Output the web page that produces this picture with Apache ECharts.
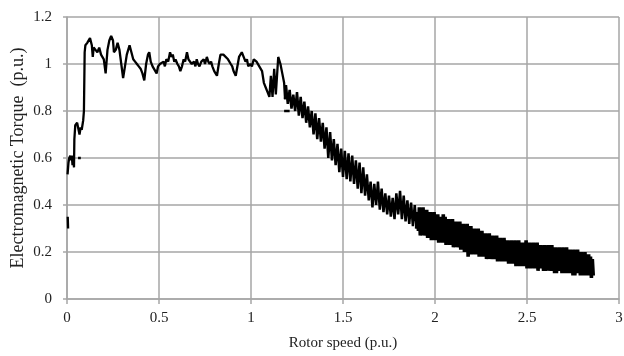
<!DOCTYPE html>
<html>
<head>
<meta charset="utf-8">
<script src="https://cdn.jsdelivr.net/npm/echarts@6/dist/echarts.min.js"></script>
<style>
  html, body { margin: 0; padding: 0; background: #fff; }
  #chart { width: 624px; height: 356px; }
</style>
</head>
<body>
<div id="chart"></div>
<script>
// tick labels
const speedTicks = [0, 0.5, 1, 1.5, 2, 2.5, 3];
const torqueTicks = [0, 0.2, 0.4, 0.6, 0.8, 1, 1.2];

// [rotor speed, torque]
const startBlip = [[0.004, 0.35], [0.006, 0.30]];
const startDash = [[0.06, 0.60], [0.075, 0.60]];
const midDash = [[1.18, 0.80], [1.21, 0.80]];

const runUp = [
  [0.003, 0.53], [0.008, 0.58], [0.012, 0.60], [0.018, 0.61], [0.022, 0.59],
  [0.026, 0.61], [0.03, 0.57], [0.034, 0.60], [0.038, 0.56], [0.04, 0.68],
  [0.045, 0.74], [0.055, 0.75], [0.062, 0.75], [0.068, 0.70], [0.074, 0.73],
  [0.08, 0.72], [0.088, 0.76], [0.092, 0.80], [0.096, 1.05], [0.1, 1.08],
  [0.11, 1.09], [0.125, 1.11], [0.135, 1.08], [0.14, 1.03], [0.145, 1.07],
  [0.155, 1.06], [0.165, 1.05], [0.175, 1.07], [0.185, 1.04], [0.2, 1.02],
  [0.21, 0.96], [0.22, 1.06], [0.23, 1.10], [0.24, 1.12], [0.25, 1.10],
  [0.255, 1.05], [0.265, 1.06], [0.275, 1.09], [0.285, 1.06], [0.295, 1.0],
  [0.305, 0.94], [0.315, 0.99], [0.325, 1.04], [0.34, 1.08], [0.35, 1.05],
  [0.36, 1.02], [0.37, 1.01], [0.38, 1.0], [0.39, 0.99], [0.40, 0.98],
  [0.41, 0.96], [0.42, 0.93], [0.43, 1.0], [0.44, 1.04], [0.447, 1.05],
  [0.455, 1.01], [0.465, 0.99], [0.475, 0.99], [0.487, 0.96], [0.495, 0.99],
  [0.505, 1.0], [0.514, 1.0], [0.525, 1.01], [0.532, 0.99], [0.54, 1.02],
  [0.55, 1.01], [0.56, 1.05], [0.568, 1.03], [0.575, 1.04], [0.583, 1.01],
  [0.59, 1.02], [0.6, 1.0], [0.608, 0.99], [0.616, 0.97], [0.625, 0.99],
  [0.634, 1.02], [0.642, 1.01], [0.652, 1.05], [0.66, 1.02], [0.67, 1.02],
  [0.678, 1.0], [0.69, 1.01], [0.698, 0.99], [0.705, 1.02], [0.712, 1.0],
  [0.72, 0.99], [0.73, 1.01], [0.743, 1.02], [0.75, 1.0], [0.76, 1.03],
  [0.768, 1.01], [0.775, 1.0], [0.783, 1.01], [0.79, 0.99], [0.80, 0.97],
  [0.815, 0.95], [0.825, 1.0], [0.834, 1.04], [0.85, 1.04], [0.86, 1.04],
  [0.875, 1.02], [0.89, 1.0], [0.898, 0.99], [0.905, 0.97], [0.917, 0.95],
  [0.935, 1.03], [0.95, 1.05], [0.96, 1.03], [0.97, 1.01], [0.978, 1.02],
  [0.985, 0.99], [0.996, 1.0], [1.005, 0.99], [1.015, 1.02], [1.03, 1.01],
  [1.045, 0.99], [1.06, 0.97], [1.07, 0.92], [1.08, 0.90], [1.09, 0.88],
  [1.1, 0.86], [1.108, 0.95], [1.117, 0.86], [1.126, 0.98], [1.135, 0.87],
  [1.148, 1.03], [1.16, 1.0], [1.17, 0.96], [1.18, 0.92], [1.185, 0.85]
];

const decayUpper = [
  [1.185, 0.85],
  [1.19, 0.91], [1.20, 0.83], [1.21, 0.89], [1.22, 0.81], [1.23, 0.87], [1.24, 0.80],
  [1.25, 0.88], [1.26, 0.78], [1.27, 0.86], [1.28, 0.77], [1.29, 0.84], [1.30, 0.75],
  [1.31, 0.82], [1.32, 0.73], [1.33, 0.80], [1.34, 0.70], [1.35, 0.79], [1.36, 0.68],
  [1.37, 0.77], [1.38, 0.67], [1.39, 0.75], [1.40, 0.64], [1.41, 0.73], [1.42, 0.60],
  [1.43, 0.71], [1.44, 0.59], [1.45, 0.68], [1.46, 0.57], [1.47, 0.66], [1.48, 0.54],
  [1.49, 0.64], [1.50, 0.52], [1.51, 0.63], [1.52, 0.51], [1.53, 0.62], [1.54, 0.50],
  [1.55, 0.61], [1.56, 0.49], [1.57, 0.59], [1.58, 0.47], [1.59, 0.58], [1.60, 0.45],
  [1.61, 0.56], [1.62, 0.44], [1.63, 0.53], [1.64, 0.42], [1.65, 0.50], [1.66, 0.39],
  [1.67, 0.49], [1.68, 0.40], [1.69, 0.50], [1.70, 0.38], [1.71, 0.47], [1.72, 0.37],
  [1.73, 0.45], [1.74, 0.36], [1.75, 0.44], [1.76, 0.35], [1.77, 0.43], [1.78, 0.34],
  [1.79, 0.45], [1.80, 0.36], [1.81, 0.46], [1.82, 0.34], [1.83, 0.44], [1.84, 0.33],
  [1.85, 0.42], [1.86, 0.32], [1.87, 0.41], [1.88, 0.31], [1.89, 0.40], [1.90, 0.30]
];

const decayLower = [
  [1.90, 0.30],
  [1.905, 0.37], [1.91, 0.29], [1.915, 0.39], [1.92, 0.27], [1.925, 0.36], [1.93, 0.28],
  [1.935, 0.39], [1.94, 0.27], [1.945, 0.35], [1.95, 0.27], [1.955, 0.38], [1.96, 0.26],
  [1.965, 0.35], [1.97, 0.26], [1.975, 0.37], [1.98, 0.25], [1.985, 0.34], [1.99, 0.26],
  [1.995, 0.37], [2.00, 0.25], [2.005, 0.34], [2.01, 0.25], [2.015, 0.36], [2.02, 0.24],
  [2.025, 0.33], [2.03, 0.25], [2.035, 0.35], [2.04, 0.24], [2.045, 0.36], [2.05, 0.24],
  [2.055, 0.35], [2.06, 0.23], [2.065, 0.32], [2.07, 0.24], [2.075, 0.34], [2.08, 0.23],
  [2.085, 0.31], [2.09, 0.23], [2.095, 0.34], [2.10, 0.22], [2.105, 0.31], [2.11, 0.23],
  [2.115, 0.33], [2.12, 0.22], [2.125, 0.30], [2.13, 0.22], [2.135, 0.33], [2.14, 0.21],
  [2.145, 0.30], [2.15, 0.21], [2.155, 0.32], [2.16, 0.20], [2.165, 0.29], [2.17, 0.20],
  [2.175, 0.32], [2.18, 0.18], [2.185, 0.29], [2.19, 0.19], [2.195, 0.31], [2.20, 0.19],
  [2.205, 0.28], [2.21, 0.20], [2.215, 0.30], [2.22, 0.19], [2.225, 0.28], [2.23, 0.19],
  [2.235, 0.30], [2.24, 0.18], [2.245, 0.27], [2.25, 0.19], [2.255, 0.29], [2.26, 0.18],
  [2.265, 0.26], [2.27, 0.18], [2.275, 0.28], [2.28, 0.17], [2.285, 0.26], [2.29, 0.18],
  [2.295, 0.28], [2.30, 0.17], [2.305, 0.25], [2.31, 0.17], [2.315, 0.27], [2.32, 0.17],
  [2.325, 0.25], [2.33, 0.17], [2.335, 0.27], [2.34, 0.16], [2.345, 0.24], [2.35, 0.17],
  [2.355, 0.26], [2.36, 0.16], [2.365, 0.24], [2.37, 0.16], [2.375, 0.26], [2.38, 0.16],
  [2.385, 0.23], [2.39, 0.16], [2.395, 0.25], [2.40, 0.15], [2.405, 0.23], [2.41, 0.15],
  [2.415, 0.25], [2.42, 0.15], [2.425, 0.23], [2.43, 0.15], [2.435, 0.25], [2.44, 0.14],
  [2.445, 0.23], [2.45, 0.15], [2.455, 0.25], [2.46, 0.14], [2.465, 0.22], [2.47, 0.14],
  [2.475, 0.24], [2.48, 0.14], [2.485, 0.22], [2.49, 0.15], [2.495, 0.25], [2.50, 0.13],
  [2.505, 0.22], [2.51, 0.14], [2.515, 0.24], [2.52, 0.13], [2.525, 0.21], [2.53, 0.14],
  [2.535, 0.24], [2.54, 0.13], [2.545, 0.21], [2.55, 0.13], [2.555, 0.24], [2.56, 0.12],
  [2.565, 0.21], [2.57, 0.13], [2.575, 0.23], [2.58, 0.13], [2.585, 0.20], [2.59, 0.12],
  [2.595, 0.23], [2.60, 0.12], [2.605, 0.20], [2.61, 0.13], [2.615, 0.23], [2.62, 0.12],
  [2.625, 0.20], [2.63, 0.12], [2.635, 0.23], [2.64, 0.12], [2.645, 0.20], [2.65, 0.11],
  [2.655, 0.22], [2.66, 0.11], [2.665, 0.19], [2.67, 0.12], [2.675, 0.22], [2.68, 0.12],
  [2.685, 0.19], [2.69, 0.11], [2.695, 0.22], [2.70, 0.11], [2.705, 0.19], [2.71, 0.11],
  [2.715, 0.22], [2.72, 0.11], [2.725, 0.18], [2.73, 0.11], [2.735, 0.21], [2.74, 0.11],
  [2.745, 0.18], [2.75, 0.10], [2.755, 0.21], [2.76, 0.10], [2.765, 0.18], [2.77, 0.11],
  [2.775, 0.21], [2.78, 0.11], [2.785, 0.17], [2.79, 0.10], [2.795, 0.20], [2.80, 0.10],
  [2.805, 0.17], [2.81, 0.10], [2.815, 0.20], [2.82, 0.10], [2.825, 0.17], [2.83, 0.10],
  [2.835, 0.19], [2.84, 0.10], [2.845, 0.18], [2.85, 0.09], [2.855, 0.17], [2.86, 0.10]
];

const chart = echarts.init(document.getElementById("chart"));
const font = "'Liberation Serif', 'DejaVu Serif', serif";
const gridColor = "#a6a6a6";

function curve(data, width) {
  return {
    type: "line",
    data: data,
    symbol: "none",
    smooth: false,
    lineStyle: { color: "#000", width: width || 2.3 },
    silent: true,
    animation: false,
  };
}

chart.setOption({
  animation: false,
  grid: { left: 67, right: 5, top: 17, bottom: 57, outerBoundsMode: "none" },
  xAxis: {
    type: "value",
    min: speedTicks[0],
    max: speedTicks[speedTicks.length - 1],
    interval: 0.5,
    name: "Rotor speed (p.u.)",
    nameLocation: "middle",
    nameGap: 37,
    nameMoveOverlap: false,
    nameTextStyle: { fontFamily: font, fontSize: 15, color: "#222" },
    axisLine: { lineStyle: { color: gridColor, width: 1.5 } },
    axisTick: { show: true, length: 5, lineStyle: { color: gridColor, width: 1.5 } },
    axisLabel: { fontFamily: font, fontSize: 15, color: "#222", margin: 12 },
    splitLine: { show: true, lineStyle: { color: gridColor, width: 1.5 } },
  },
  yAxis: {
    type: "value",
    min: torqueTicks[0],
    max: torqueTicks[torqueTicks.length - 1],
    interval: 0.2,
    name: "Electromagnetic Torque  (p.u.)",
    nameLocation: "middle",
    nameGap: 40,
    nameMoveOverlap: false,
    nameTextStyle: { fontFamily: font, fontSize: 18, color: "#222" },
    axisLine: { show: true, lineStyle: { color: gridColor, width: 1.5 } },
    axisTick: { show: true, length: 4, lineStyle: { color: gridColor, width: 1.5 } },
    axisLabel: { fontFamily: font, fontSize: 15, color: "#222", margin: 15 },
    splitLine: { show: true, lineStyle: { color: gridColor, width: 1.5 } },
  },
  series: [
    curve(startBlip), curve(startDash), curve(midDash),
    curve(runUp, 2.3), curve(decayUpper, 2.5), curve(decayLower, 3.6)
  ],
});
</script>
</body>
</html>
